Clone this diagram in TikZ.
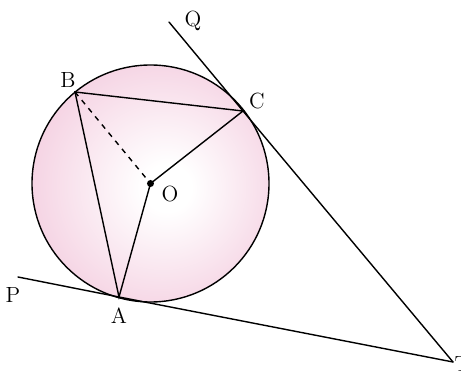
\documentclass[tikz,border=0pt]{standalone}
\usepackage{tikz}
\usetikzlibrary{calc}
\definecolor{circpink}{RGB}{244,206,224}
\pgfdeclareradialshading{pinkglow}{\pgfpoint{4bp}{-1bp}}{color(0bp)=(white); color(5bp)=(white); color(30bp)=(circpink); color(50bp)=(circpink)}

\begin{document}
\begin{tikzpicture}[x=0.02cm,y=-0.02cm,line width=0.8pt,
  lbl/.style={font=\fontsize{12.5}{14}\selectfont,inner sep=0pt},
  seg/.style={line cap=round}]
\useasboundingbox (0,0) rectangle (461,372);
\coordinate (O) at (150.5,183.5);
\coordinate (A) at (119,297);
\coordinate (B) at (75,92);
\coordinate (C) at (243,111);
\coordinate (P) at (18,277);
\coordinate (Q) at (169,22);
\coordinate (T) at (453,362);
% circle with pink glow
\shade[shading=pinkglow] (O) circle (118.5);
\draw (O) circle (118.5);
% tangents
\draw[seg] (P) -- (A) -- (T);
\draw[seg] (Q) -- (C) -- (T);
% chords and radii
\draw[seg] (B) -- (C) -- (O) -- (A) -- cycle;
\draw[dashed] (B) -- (O);
\fill (O) circle (3.5);
% labels
\node[lbl] (lq) at (193,21) {Q};
\node[lbl] (lb) at (68,80) {B};
\node[lbl] (lc) at (257,101) {C};
\node[lbl] (lo) at (170,194) {O};
\node[lbl] (lp) at (13,295) {P};
\node[lbl] (la) at (119,316) {A};
\node[lbl,anchor=west] (lt) at (454,364) {T};
\end{tikzpicture}
\end{document}
